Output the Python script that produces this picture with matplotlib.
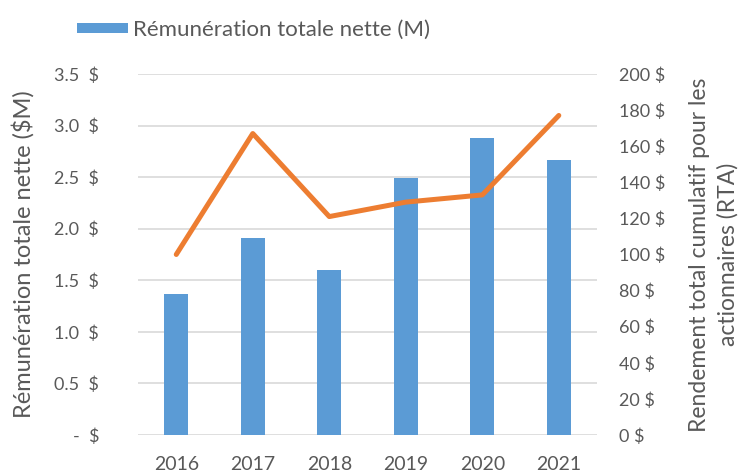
import numpy as np
import matplotlib.pyplot as plt
from matplotlib.ticker import FuncFormatter

# data
years = ["2016", "2017", "2018", "2019", "2020", "2021"]
remuneration = [1.37, 1.91, 1.60, 2.49, 2.88, 2.67]   # $M
rta = [100, 167, 121, 129, 133, 177]                  # $

left_ticks = [0, 0.5, 1.0, 1.5, 2.0, 2.5, 3.0, 3.5]
right_ticks = [0, 20, 40, 60, 80, 100, 120, 140, 160, 180, 200]

bar_color = "#5B9BD5"
line_color = "#ED7D31"
text_color = "#595959"
grid_color = "#D9D9D9"

plt.rcParams["font.family"] = ["Lato", "DejaVu Sans"]

fig = plt.figure(figsize=(7.44, 4.71), dpi=100)
ax = fig.add_axes([0.1855, 0.0764, 0.617, 0.7666])
ax2 = ax.twinx()

x = np.arange(len(years))
ax.bar(x, remuneration, width=0.31, color=bar_color, zorder=2,
       label="Rémunération totale nette (M)")
ax2.plot(x, rta, color=line_color, linewidth=3.6, solid_capstyle="round", zorder=3)

ax.set_xlim(-0.5, len(years) - 0.5)
ax.set_ylim(0, 3.5)
ax2.set_ylim(0, 200)
ax.set_yticks(left_ticks)
ax2.set_yticks(right_ticks)
ax.set_xticks(x)
ax.set_xticklabels(years)

def left_fmt(v, pos):
    return "-  $" if abs(v) < 1e-9 else f"{v:.1f}  $"

ax.yaxis.set_major_formatter(FuncFormatter(left_fmt))
ax2.yaxis.set_major_formatter(FuncFormatter(lambda v, pos: f"{v:.0f} $"))

ax.grid(axis="y", color=grid_color, linewidth=1.2, zorder=0)
ax.set_axisbelow(True)
for a in (ax, ax2):
    for s in a.spines.values():
        s.set_visible(False)
    a.tick_params(length=0, labelsize=13, colors=text_color)
ax.tick_params(axis="y", pad=28)
ax.tick_params(axis="x", pad=15, labelsize=14)
ax2.tick_params(axis="y", pad=16)

ax.set_ylabel("Rémunération totale nette ($M)", fontsize=17, color=text_color, labelpad=14)
ax2.set_ylabel("Rendement total cumulatif pour les\nactionnaires (RTA)", fontsize=16.5,
               color=text_color, labelpad=17, linespacing=1.4)

fig.legend(loc="upper left", bbox_to_anchor=(0.076, 1.0), frameon=False, fontsize=16,
           labelcolor=text_color, handlelength=2.3, handleheight=0.36, handletextpad=0.25)

fig.savefig("out.png", dpi=100)
